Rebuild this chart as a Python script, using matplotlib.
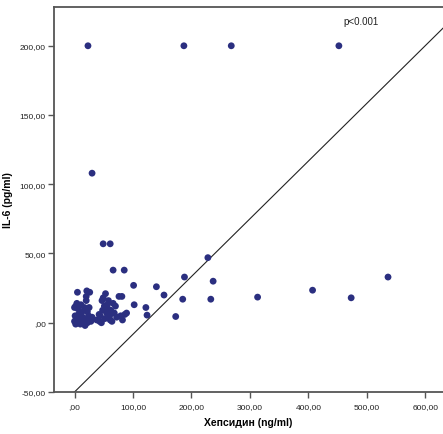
import matplotlib
matplotlib.use("Agg")
import matplotlib.pyplot as plt
from matplotlib.ticker import FuncFormatter

# Hepcidin (ng/ml) vs IL-6 (pg/ml)
hepcidin = [
    # low cluster
    5, 21, 26, 20, 20, 0, 4, 2, 6, 1, 3, 0, 2, 5, 8, 10, 12, 14, 16, 18,
    20, 22, 24, 26, 28, 13, 7, 17, 22, 11, 25, 30,
    38, 43, 44, 47, 49, 53, 58, 48, 51, 55, 52, 57, 60, 62, 64, 66, 68, 70,
    72, 76, 81, 79, 82, 86, 89, 46, 42, 56, 61,
    # scattered
    23, 187, 268, 452, 30, 49, 61, 66, 85, 101, 102, 140, 153, 122, 124,
    173, 185, 188, 228, 237, 233, 313, 407, 473, 536,
]
il6 = [
    22, 23, 22, 19, 16, 11, 14, 12, 10, 5, 3, 1, -1, 0, 2, -1, 1, 4, 0, -2,
    2, 0, 5, 3, 1, 8, 6, 11, 8, 13, 11, 4,
    2, 1, 5, 16, 18, 21, 16, 9, 12, 7, 3, 10, 5, 9, 1, 14, 7, 12,
    4, 19, 19, 5, 2, 6, 7, 0, 6, 13, 2,
    200, 200, 200, 200, 108, 57, 57, 38, 38, 27, 13, 26, 20, 11, 5.5,
    4.5, 17, 33, 47, 30, 17, 18.5, 23.5, 18, 33,
]

# reference line
line_x = [0, 630]
line_slope = 0.417
line_intercept = -50

x_ticks = [0, 100, 200, 300, 400, 500, 600]
y_ticks = [-50, 0, 50, 100, 150, 200]

plt.rcParams["font.family"] = ["Liberation Sans", "DejaVu Sans"]

fig = plt.figure(figsize=(4.43, 4.35), dpi=100)
ax = fig.add_axes([0.122, 0.0966, 0.878, 0.885])

ax.plot(line_x, [line_intercept + line_slope * v for v in line_x],
        color="#222222", lw=0.8, zorder=1)
ax.scatter(hepcidin, il6, s=24, color="#2b2f80", edgecolors="none", zorder=2)

ax.set_xlim(-35, 630)
ax.set_ylim(-50, 228)
ax.set_xticks(x_ticks)
ax.set_yticks(y_ticks)


def comma_fmt(v, pos):
    s = f"{v:.2f}".replace(".", ",")
    if s.startswith("0,"):
        s = s[1:]
    return s


ax.xaxis.set_major_formatter(FuncFormatter(comma_fmt))
ax.yaxis.set_major_formatter(FuncFormatter(comma_fmt))

for side in ("left", "bottom", "top"):
    ax.spines[side].set_color("#555555")
    ax.spines[side].set_linewidth(1.3)
ax.spines["right"].set_visible(False)

ax.tick_params(axis="both", direction="out", length=4, width=1.0,
               color="#555555", labelsize=6, labelcolor="#222222", pad=2)
ax.tick_params(axis="x", pad=4)

ax.set_xlabel("Хепсидин (ng/ml)", fontsize=7.5, fontweight="bold")
ax.xaxis.set_label_coords(0.5, -0.064)
ax.set_ylabel("IL-6 (pg/ml)", fontsize=7.5, fontweight="bold")
ax.yaxis.set_label_coords(-0.105, 0.5)

ax.text(459, 218, "p<0.001", fontsize=7, color="#222222", va="center", ha="left")

fig.savefig("out.png", dpi=100)
